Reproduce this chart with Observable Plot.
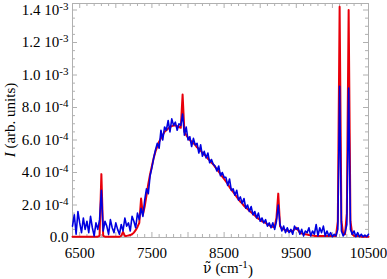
<!DOCTYPE html>
<html><head><meta charset="utf-8">
<script src="https://cdn.jsdelivr.net/npm/d3@7"></script>
<script src="https://cdn.jsdelivr.net/npm/@observablehq/plot@0.6"></script>
<style>
body{margin:0;background:#fff}
#chart svg{font-family:"Liberation Serif","Times New Roman",Times,serif;background:#fff}
</style>
</head><body><div id="chart"></div>
<script>
// Sampling grid (cm^-1)
const wavenumberStart = 6400;
const wavenumberStep = 25;
// Intensity values in units of 1e-4 (arb. units)
const redValues = [
  0.05,0.05,0.05,0.05,0.05,0.05,0.05,0.05,
  0.05,0.05,0.05,0.05,0.05,0.05,0.05,0.1,
  3.9,0.1,0.05,0.05,0.05,0.05,0.05,0.05,
  0.05,0.05,0.05,0.1,0.35,0.1,0.1,0.12,
  0.15,0.2,0.3,0.45,0.65,0.9,2.4,1.4,
  1.9,2.6,3.3,3.9,4.4,4.9,5.3,5.6,
  5.9,6.1,6.3,6.5,6.6,6.7,6.8,6.85,
  6.9,6.9,6.85,6.8,6.75,8.8,6.5,6.3,
  6.15,6.0,5.9,5.8,5.7,5.55,5.45,5.35,
  5.2,5.1,5.0,4.85,4.75,4.6,4.5,4.35,
  4.2,4.05,3.9,3.75,3.6,3.45,3.3,3.1,
  2.95,2.8,2.65,2.5,2.35,2.2,2.1,1.95,
  1.85,1.75,1.65,1.55,1.45,1.35,1.25,1.15,
  1.1,1.0,0.95,0.9,0.8,0.75,0.7,0.65,
  0.65,1.2,2.7,0.7,0.55,0.5,0.45,0.42,
  0.4,0.38,0.4,0.5,0.6,0.45,0.3,0.25,
  0.22,0.2,0.18,0.15,0.14,0.12,0.1,0.1,
  0.1,0.1,0.1,0.1,0.1,0.1,0.1,0.1,
  0.1,0.1,0.1,1.0,14.2,1.0,0.2,0.2,
  1.5,14.0,1.0,0.2,0.1,0.1,0.1,0.1,
  0.05,0.05,0.05,0.05,0.05
];
const blueValues = [
  0.7,1.4,0.2,1.6,0.9,0.3,1.2,0.5,
  1.0,0.3,1.3,0.6,0.1,0.9,0.5,1.1,
  2.9,0.4,1.0,0.7,0.2,1.1,0.6,0.3,
  0.9,0.5,0.2,0.8,0.4,1.2,0.7,0.9,
  0.4,1.3,1.0,0.6,1.5,1.1,1.8,1.3,
  2.3,3.0,2.7,3.8,4.3,4.9,5.4,5.8,
  5.5,6.6,6.0,6.8,6.6,7.2,6.5,7.3,
  6.9,7.1,6.6,7.0,6.9,7.6,6.3,6.8,
  6.0,6.2,5.6,6.1,5.7,5.8,5.2,5.7,
  5.0,5.3,4.9,5.2,4.6,4.8,4.5,4.4,
  4.1,4.4,3.8,4.0,3.7,3.7,3.2,3.6,
  2.9,3.0,2.6,2.9,2.3,2.5,2.1,2.4,
  1.8,2.0,1.6,1.9,1.4,1.6,1.2,1.5,
  1.0,1.2,0.9,1.1,0.7,0.9,0.6,0.9,
  0.5,1.0,2.0,0.8,0.4,0.7,0.3,0.6,
  0.3,0.5,0.2,0.7,0.5,0.6,0.2,0.5,
  0.1,0.4,0.3,0.6,0.1,0.4,0.2,0.8,
  0.1,0.6,0.3,0.7,0.1,0.4,0.1,0.3,
  0.05,0.2,0.1,0.5,9.3,0.4,0.1,0.3,
  0.8,9.2,0.5,0.2,0.4,0.05,0.3,0.05,
  0.2,0.05,0.15,0.05,0.2
];
const unit = 1e-4;
const xTickLabels = [6500, 7500, 8500, 9500, 10500];
const xMajorTicks = [6500, 7000, 7500, 8000, 8500, 9000, 9500, 10000, 10500];
const xMinorStep = 100;
const yTickValues = [0, 2e-4, 4e-4, 6e-4, 8e-4, 1.0e-3, 1.2e-3, 1.4e-3];
const yTickLabels = ["0.0", "2.0 10^-4", "4.0 10^-4", "6.0 10^-4", "8.0 10^-4", "1.0 10^-3", "1.2 10^-3", "1.4 10^-3"];
const yMinorStep = 0.5e-4;
const xDomain = [6400, 10500];
const yDomain = [0, 1.44e-3];

const W = 387, H = 279;
const mL = 72, mR = 19, mT = 3, mB = 42;
const innerW = W - mL - mR, innerH = H - mT - mB;

const red = redValues.map((v, i) => ({x: wavenumberStart + i * wavenumberStep, y: v * unit}));
const blue = blueValues.map((v, i) => ({x: wavenumberStart + i * wavenumberStep, y: v * unit}));
const xMinor = d3.range(xDomain[0], xDomain[1] + 1, xMinorStep).filter(v => !xMajorTicks.includes(v));
const yMinor = d3.range(0, yDomain[1], yMinorStep).filter(v => !yTickValues.some(t => Math.abs(t - v) < 1e-9));
const tickColor = "#b0b0b0";
const serif = '"Liberation Serif","Times New Roman",Times,serif';

const chart = Plot.plot({
  width: W, height: H,
  marginLeft: mL, marginRight: mR, marginTop: mT, marginBottom: mB,
  style: {fontFamily: serif, fontSize: "15px", background: "#fff", color: "#000"},
  x: {domain: xDomain},
  y: {domain: yDomain},
  marks: [
    Plot.ruleX(xMajorTicks, {x: d => d, stroke: tickColor, insetTop: innerH - 5}),
    Plot.ruleX(xMajorTicks, {x: d => d, stroke: tickColor, insetBottom: innerH - 5}),
    Plot.ruleX(xMinor, {x: d => d, stroke: tickColor, insetTop: innerH - 3}),
    Plot.ruleX(xMinor, {x: d => d, stroke: tickColor, insetBottom: innerH - 3}),
    Plot.ruleY(yTickValues, {y: d => d, stroke: tickColor, insetRight: innerW - 5}),
    Plot.ruleY(yTickValues, {y: d => d, stroke: tickColor, insetLeft: innerW - 5}),
    Plot.ruleY(yMinor, {y: d => d, stroke: tickColor, insetRight: innerW - 3}),
    Plot.ruleY(yMinor, {y: d => d, stroke: tickColor, insetLeft: innerW - 3}),
    Plot.frame({stroke: tickColor}),
    Plot.lineY(red, {x: "x", y: "y", stroke: "#e8000b", strokeWidth: 2}),
    Plot.lineY(blue, {x: "x", y: "y", stroke: "#0000e0", strokeWidth: 1.6}),
    Plot.axisX(xTickLabels, {tickSize: 0, tickPadding: 10, label: null, fontSize: 15, fontFamily: serif, tickFormat: d => String(d)}),
    Plot.axisY(yTickValues, {tickSize: 0, tickPadding: 4, label: null, fontSize: 15, fontFamily: serif,
      tickFormat: d => yTickLabels[yTickValues.indexOf(d)]})
  ]
});
document.getElementById("chart").appendChild(chart);

const svg = d3.select(chart);
svg.selectAll('g[aria-label="y-axis tick label"] text').each(function() {
  const t = d3.select(this);
  const s = t.text();
  if (s.includes("^")) {
    const [base, exp] = s.split("^");
    t.text(base);
    t.append("tspan").attr("dy", "-0.45em").attr("font-size", 11).text(exp);
  }
});
// axis titles
const yl = svg.append("text")
  .attr("transform", `translate(15,${mT + innerH / 2}) rotate(-90)`)
  .attr("text-anchor", "middle").attr("font-size", 15).attr("font-family", serif).attr("fill", "#000");
yl.append("tspan").attr("font-style", "italic").text("I");
yl.append("tspan").text(" (arb. units)");
const xl = svg.append("text")
  .attr("x", mL + innerW / 2 + 8).attr("y", H - 6)
  .attr("text-anchor", "middle").attr("font-size", 15).attr("font-family", serif).attr("fill", "#000");
xl.append("tspan").attr("font-family", '"DejaVu Serif",serif').attr("font-size", 14).text("\u03BD\u0303");
xl.append("tspan").text(" (cm");
xl.append("tspan").attr("dy", "-0.45em").attr("font-size", 11).text("-1");
xl.append("tspan").attr("dy", "0.45em").text(")");
</script>
</body></html>
